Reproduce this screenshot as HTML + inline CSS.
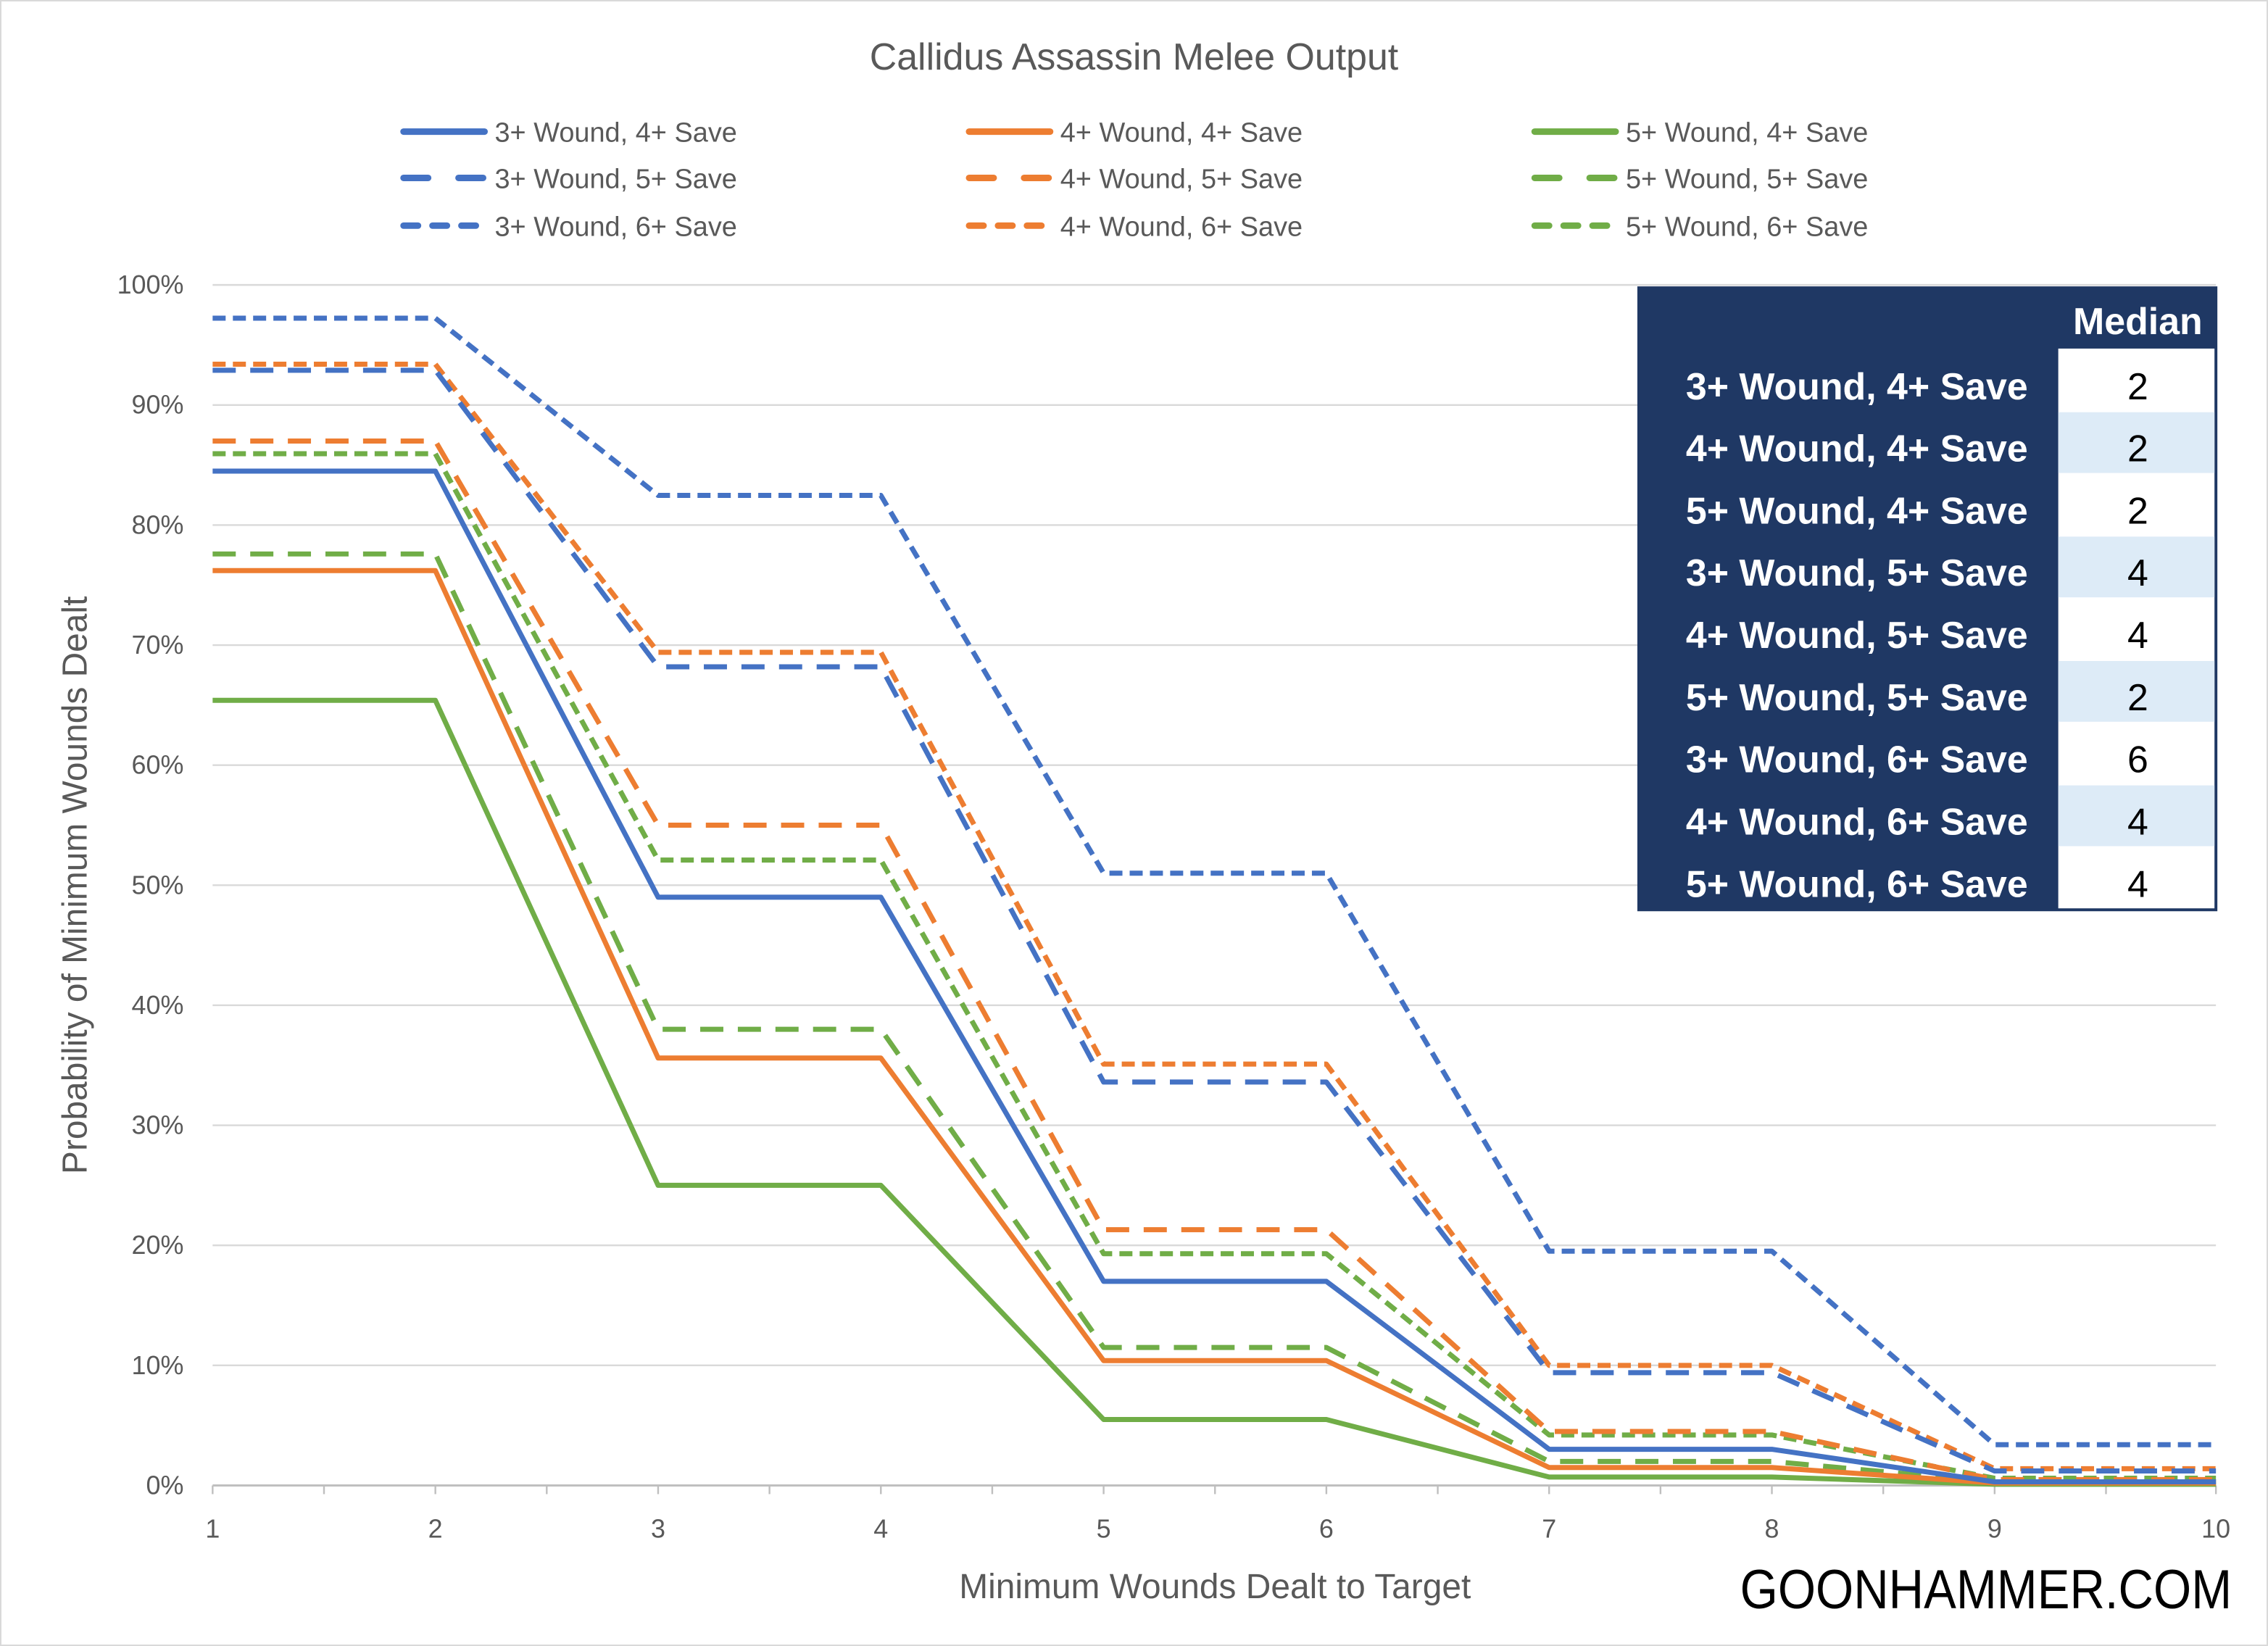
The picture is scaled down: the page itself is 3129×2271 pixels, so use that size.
<!DOCTYPE html>
<html><head><style>
html,body{margin:0;padding:0;background:#fff;}
svg{display:block;}
text{font-family:"Liberation Sans",sans-serif;}
</style></head><body>
<svg width="3129" height="2271" viewBox="0 0 1568 1138" preserveAspectRatio="none" xmlns="http://www.w3.org/2000/svg">
<rect x="0" y="0" width="1568" height="1138" fill="#fff"/>
<rect x="0.5" y="0.5" width="1567" height="1137" fill="none" stroke="#d9d9d9"/>
<text x="784" y="48" font-size="26" fill="#595959" text-anchor="middle">Callidus Assassin Melee Output</text>
<g id="grid" stroke="#d9d9d9" stroke-width="1.2">
<line x1="147" x2="1532" y1="944" y2="944"/><line x1="147" x2="1532" y1="861" y2="861"/>
<line x1="147" x2="1532" y1="778" y2="778"/><line x1="147" x2="1532" y1="695" y2="695"/>
<line x1="147" x2="1532" y1="612" y2="612"/><line x1="147" x2="1532" y1="529" y2="529"/>
<line x1="147" x2="1532" y1="446" y2="446"/><line x1="147" x2="1532" y1="363" y2="363"/>
<line x1="147" x2="1532" y1="280" y2="280"/><line x1="147" x2="1532" y1="197" y2="197"/>
</g>
<line x1="147" x2="1532" y1="1027" y2="1027" stroke="#bfbfbf" stroke-width="1.5"/>
<g stroke="#bfbfbf" stroke-width="1.2">
<line x1="147" x2="147" y1="1027" y2="1033"/><line x1="224" x2="224" y1="1027" y2="1033"/><line x1="301" x2="301" y1="1027" y2="1033"/><line x1="378" x2="378" y1="1027" y2="1033"/><line x1="455" x2="455" y1="1027" y2="1033"/><line x1="532" x2="532" y1="1027" y2="1033"/><line x1="609" x2="609" y1="1027" y2="1033"/><line x1="686" x2="686" y1="1027" y2="1033"/><line x1="763" x2="763" y1="1027" y2="1033"/><line x1="840" x2="840" y1="1027" y2="1033"/><line x1="917" x2="917" y1="1027" y2="1033"/><line x1="994" x2="994" y1="1027" y2="1033"/><line x1="1071" x2="1071" y1="1027" y2="1033"/><line x1="1148" x2="1148" y1="1027" y2="1033"/><line x1="1225" x2="1225" y1="1027" y2="1033"/><line x1="1302" x2="1302" y1="1027" y2="1033"/><line x1="1379" x2="1379" y1="1027" y2="1033"/><line x1="1456" x2="1456" y1="1027" y2="1033"/><line x1="1532" x2="1532" y1="1027" y2="1033"/>
</g>
<g font-size="18" fill="#595959" text-anchor="end">
<text x="127" y="1033">0%</text><text x="127" y="950">10%</text><text x="127" y="867">20%</text><text x="127" y="784">30%</text><text x="127" y="701">40%</text><text x="127" y="618">50%</text><text x="127" y="535">60%</text><text x="127" y="452">70%</text><text x="127" y="369">80%</text><text x="127" y="286">90%</text><text x="127" y="203">100%</text>
</g>
<g font-size="18" fill="#595959" text-anchor="middle">
<text x="147" y="1063">1</text><text x="301" y="1063">2</text><text x="455" y="1063">3</text><text x="609" y="1063">4</text><text x="763" y="1063">5</text><text x="917" y="1063">6</text><text x="1071" y="1063">7</text><text x="1225" y="1063">8</text><text x="1379" y="1063">9</text><text x="1532" y="1063">10</text>
</g>
<text x="840" y="1105" font-size="24" fill="#595959" text-anchor="middle">Minimum Wounds Dealt to Target</text>
<text transform="translate(60,612) rotate(-90)" font-size="24" fill="#595959" text-anchor="middle">Probability of Minimum Wounds Dealt</text>
<text x="1203" y="1112" font-size="38" fill="#000" textLength="340" lengthAdjust="spacingAndGlyphs">GOONHAMMER.COM</text>

<g fill="none" stroke-width="3.5" stroke-linejoin="round">
<polyline stroke="#70AD47" stroke-dasharray="9,5" points="147,313.7 301,313.7 455,594.6 609,594.6 763,866.8 917,866.8 1071,992.1 1225,992.1 1379,1022 1532,1022"/>
<polyline stroke="#ED7D31" stroke-dasharray="9,5" points="147,251.8 301,251.8 455,451 609,451 763,735.7 917,735.7 1071,944 1225,944 1379,1015.4 1532,1015.4"/>
<polyline stroke="#4472C4" stroke-dasharray="9,5" points="147,220 301,220 455,342.5 609,342.5 763,603.7 917,603.7 1071,865 1225,865 1379,998.8 1532,998.8"/>
<polyline stroke="#70AD47" stroke-dasharray="16,10" points="147,383 301,383 455,711.6 609,711.6 763,931.6 917,931.6 1071,1010.4 1225,1010.4 1379,1024.5 1532,1024.5"/>
<polyline stroke="#ED7D31" stroke-dasharray="16,10" points="147,304.9 301,304.9 455,570.5 609,570.5 763,850.2 917,850.2 1071,989.7 1225,989.7 1379,1022.9 1532,1022.9"/>
<polyline stroke="#4472C4" stroke-dasharray="16,10" points="147,256 301,256 455,461 609,461 763,748.1 917,748.1 1071,949 1225,949 1379,1017 1532,1017"/>
<polyline stroke="#70AD47" points="147,484.2 301,484.2 455,819.5 609,819.5 763,981.4 917,981.4 1071,1021.2 1225,1021.2 1379,1026.2 1532,1026.2"/>
<polyline stroke="#ED7D31" points="147,394.5 301,394.5 455,731.5 609,731.5 763,940.7 917,940.7 1071,1014.6 1225,1014.6 1379,1025.3 1532,1025.3"/>
<polyline stroke="#4472C4" points="147,325.7 301,325.7 455,620.3 609,620.3 763,885.9 917,885.9 1071,1002 1225,1002 1379,1024.5 1532,1024.5"/>
</g>

<g stroke-width="4.5" stroke-linecap="round" fill="none">
<line x1="279" x2="335" y1="91" y2="91" stroke="#4472C4"/>
<line x1="279" x2="335" y1="123" y2="123" stroke="#4472C4" stroke-dasharray="17,21"/>
<line x1="279" x2="335" y1="156" y2="156" stroke="#4472C4" stroke-dasharray="10,10"/>
<line x1="670" x2="726" y1="91" y2="91" stroke="#ED7D31"/>
<line x1="670" x2="726" y1="123" y2="123" stroke="#ED7D31" stroke-dasharray="17,21"/>
<line x1="670" x2="726" y1="156" y2="156" stroke="#ED7D31" stroke-dasharray="10,10"/>
<line x1="1061" x2="1117" y1="91" y2="91" stroke="#70AD47"/>
<line x1="1061" x2="1117" y1="123" y2="123" stroke="#70AD47" stroke-dasharray="17,21"/>
<line x1="1061" x2="1117" y1="156" y2="156" stroke="#70AD47" stroke-dasharray="10,10"/>
</g>
<g font-size="19" fill="#595959">
<text x="342" y="98">3+ Wound, 4+ Save</text><text x="342" y="130">3+ Wound, 5+ Save</text><text x="342" y="163">3+ Wound, 6+ Save</text>
<text x="733" y="98">4+ Wound, 4+ Save</text><text x="733" y="130">4+ Wound, 5+ Save</text><text x="733" y="163">4+ Wound, 6+ Save</text>
<text x="1124" y="98">5+ Wound, 4+ Save</text><text x="1124" y="130">5+ Wound, 5+ Save</text><text x="1124" y="163">5+ Wound, 6+ Save</text>
</g>

<rect x="1132" y="198" width="401" height="432" fill="#1F3864"/>
<rect x="1423" y="241" width="108" height="387" fill="#fff"/>
<rect x="1423" y="285" width="108" height="42" fill="#DDEBF7"/>
<rect x="1423" y="371" width="108" height="42" fill="#DDEBF7"/>
<rect x="1423" y="457" width="108" height="42" fill="#DDEBF7"/>
<rect x="1423" y="543" width="108" height="42" fill="#DDEBF7"/>
<text x="1478" y="231" font-size="26" font-weight="bold" fill="#fff" text-anchor="middle">Median</text>
<g font-size="26" font-weight="bold" fill="#fff" text-anchor="end">
<text x="1402" y="276">3+ Wound, 4+ Save</text><text x="1402" y="319">4+ Wound, 4+ Save</text><text x="1402" y="362">5+ Wound, 4+ Save</text>
<text x="1402" y="405">3+ Wound, 5+ Save</text><text x="1402" y="448">4+ Wound, 5+ Save</text><text x="1402" y="491">5+ Wound, 5+ Save</text>
<text x="1402" y="534">3+ Wound, 6+ Save</text><text x="1402" y="577">4+ Wound, 6+ Save</text><text x="1402" y="620">5+ Wound, 6+ Save</text>
</g>
<g font-size="26" fill="#000" text-anchor="middle">
<text x="1478" y="276">2</text><text x="1478" y="319">2</text><text x="1478" y="362">2</text>
<text x="1478" y="405">4</text><text x="1478" y="448">4</text><text x="1478" y="491">2</text>
<text x="1478" y="534">6</text><text x="1478" y="577">4</text><text x="1478" y="620">4</text>
</g>
</svg>
</body></html>
